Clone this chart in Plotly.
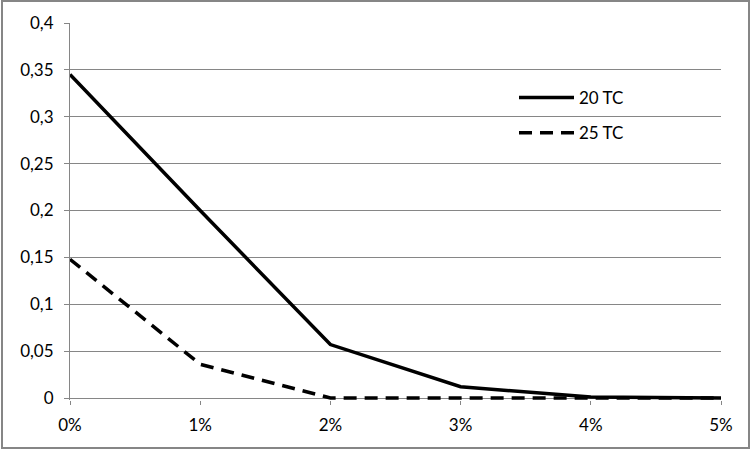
import plotly.graph_objects as go

categories = ["0%", "1%", "2%", "3%", "4%", "5%"]
series_20tc = [0.345, 0.2, 0.057, 0.012, 0.001, 0.0]
series_25tc = [0.148, 0.036, 0.0, 0.0, 0.0, 0.0]
y_ticks = [0, 0.05, 0.1, 0.15, 0.2, 0.25, 0.3, 0.35, 0.4]

W, H = 752, 451
ml, mr, mt, mb = 70, 31, 23, 51
pw, ph = W - ml - mr, H - mt - mb
pad = 0.4 / 375 * 2  # small room below zero so the zero-level lines are not clipped

def py(px):
    return (H - mb - px) / ph

fig = go.Figure()
fig.add_trace(go.Scatter(x=categories, y=series_20tc, name="20 TC", mode="lines",
                         line=dict(color="black", width=3.5), legendgroup="a"))
fig.add_trace(go.Scatter(x=categories, y=series_25tc, name="25 TC", mode="lines",
                         line=dict(color="black", width=3.5, dash="13px,8px"), legendgroup="b"))

fig.update_layout(
    width=W, height=H,
    margin=dict(l=ml, r=mr, t=mt, b=mb),
    paper_bgcolor="white", plot_bgcolor="white",
    separators=", ",
    font=dict(family="Lato, 'Open Sans', sans-serif", size=17, color="black"),
    showlegend=True,
    legend=dict(x=(514 - ml) / pw, y=py(80), xanchor="left", yanchor="top",
                bgcolor="rgba(0,0,0,0)", tracegroupgap=10, itemwidth=55,
                font=dict(size=17)),
    xaxis=dict(type="category", range=[0, 5], showgrid=False, showline=False,
               ticks="outside", ticklen=4,
               tickcolor="#868686", zeroline=False, fixedrange=True,
               ticklabelstandoff=6),
    yaxis=dict(range=[-pad, 0.4], tickvals=y_ticks, showgrid=True, gridcolor="#868686",
               gridwidth=1, showline=True, linecolor="#868686", linewidth=1,
               ticks="outside", ticklen=5, tickcolor="#868686",
               zeroline=True, zerolinecolor="#868686", zerolinewidth=1,
               ticklabelstandoff=7, fixedrange=True),
    shapes=[dict(type="rect", xref="paper", yref="paper",
                 x0=-(ml - 2) / pw, x1=1 + (mr - 3) / pw,
                 y0=py(448), y1=py(1),
                 line=dict(color="#868686", width=2), fillcolor="rgba(0,0,0,0)")],
)

fig.write_html("out.html", config={"displayModeBar": False},
               post_script="document.body.style.margin='0';")
